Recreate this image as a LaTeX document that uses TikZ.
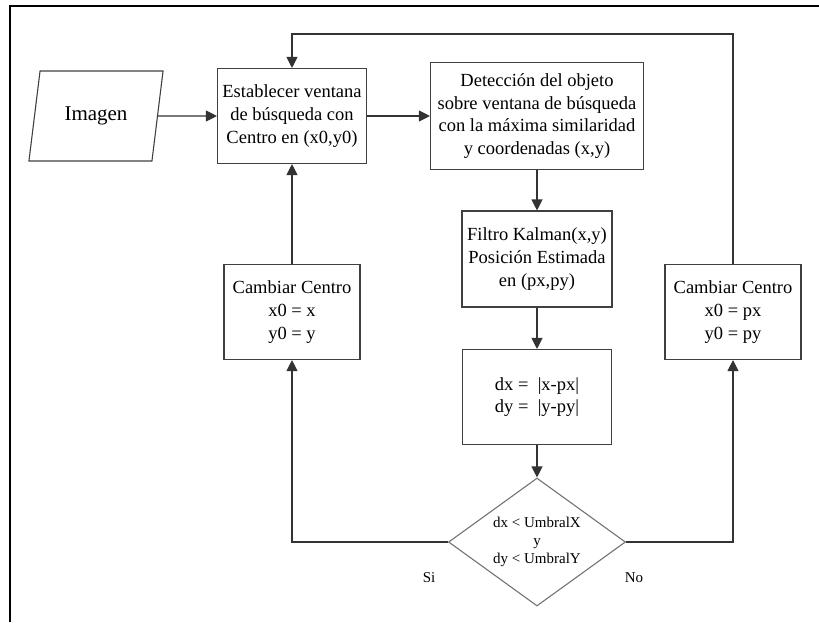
\documentclass[tikz,border=0pt]{standalone}
\usepackage{fontspec}
\setmainfont{Liberation Serif}
\usetikzlibrary{shapes.geometric, arrows.meta}

\begin{document}
\begin{tikzpicture}[x=1pt, y=-1pt, line width=1.1pt, >={Triangle[length=11pt, width=11pt]},
    box/.style={shape=rectangle, draw=black!75, align=center, inner sep=0pt, font=\fontsize{18.5}{22.7}\selectfont},
    flow/.style={->, draw=black!80}]
    \useasboundingbox (0, 0) rectangle (819, 622);
    \draw[line width=2.5pt] (10, 622) -- (10, 6) -- (819, 6);
    \node[shape=trapezium, trapezium left angle=74.5, trapezium right angle=105.5, trapezium stretches=true, draw=black!75, minimum width=135pt, minimum height=90pt, font=\fontsize{21}{25}\selectfont] (img) at (96, 116) {Imagen};
    \node[box, minimum width=149pt, minimum height=95pt] (estab) at (292, 116) {Establecer ventana\\ de búsqueda con\\ Centro en (x0,y0)};
    \node[box, minimum width=213pt, minimum height=107pt] (det) at (537, 116) {Detección del objeto\\ sobre ventana de búsqueda\\ con la máxima similaridad\\ y coordenadas (x,y)};
    \node[box, minimum width=150pt, minimum height=96pt] (kal) at (537, 259) {Filtro Kalman(x,y)\\ Posición Estimada\\ en (px,py)};
    \node[box, minimum width=149pt, minimum height=95pt] (dif) at (537, 397) {dx = \ |x-px|\\ dy = \ |y-py|};
    \node[shape=diamond, draw=black!55, minimum width=177pt, minimum height=128pt, aspect=1.38, inner sep=0pt, align=center, font=\fontsize{15}{18.3}\selectfont] (cmp) at (537, 542) {dx < UmbralX\\ y\\ dy < UmbralY};
    \node[box, minimum width=136pt, minimum height=95pt] (camL) at (292, 312) {Cambiar Centro\\ x0 = x\\ y0 = y};
    \node[box, minimum width=136pt, minimum height=95pt] (camR) at (733, 312) {Cambiar Centro\\ x0 = px\\ y0 = py};
    \node[font=\fontsize{15}{18}\selectfont] (si) at (429, 578) {Si};
    \node[font=\fontsize{15}{18}\selectfont] (no) at (634, 578) {No};
    \coordinate (loop) at (292, 34);
    \draw[flow] (img) -- (estab);
    \draw[flow] (estab) -- (det);
    \draw[flow] (det) -- (kal);
    \draw[flow] (kal) -- (dif);
    \draw[flow] (dif) -- (cmp);
    \draw[flow] (cmp.west) -| (camL.south);
    \draw[flow] (cmp.east) -| (camR.south);
    \draw[flow] (camL) -- (estab);
    \draw[flow] (camR.north) |- (loop) -- (estab.north);
\end{tikzpicture}
\end{document}
